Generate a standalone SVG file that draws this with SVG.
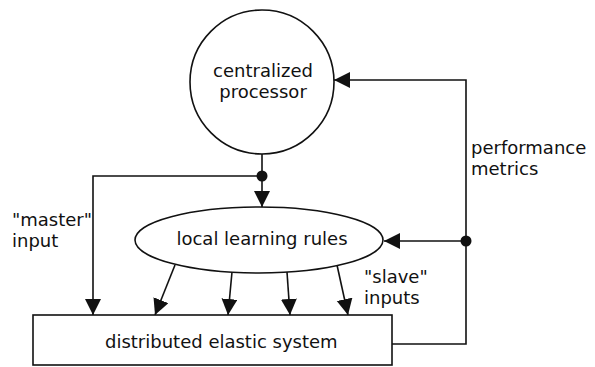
<svg xmlns="http://www.w3.org/2000/svg" width="595" height="367" viewBox="0 0 595 367">
<style>
  .ln { fill: none; stroke: #111; stroke-width: 1.6; }
  .shape { fill: #fff; stroke: #111; stroke-width: 1.6; }
  .t { font-family: "DejaVu Sans", "Liberation Sans", sans-serif; font-size: 18px; fill: #111; }
  .dot { fill: #111; }
</style>
<defs>
  <marker id="ah" markerUnits="userSpaceOnUse" markerWidth="17" markerHeight="17" refX="16" refY="8" orient="auto" viewBox="0 0 17 17">
    <path d="M0,0 L16,8 L0,16 z" fill="#111"/>
  </marker>
</defs>
<rect width="595" height="367" fill="#fff"/>
<g id="connectors">
  <line class="ln" x1="262" y1="154" x2="262" y2="207" marker-end="url(#ah)"/>
  <polyline class="ln" points="262,176 93,176 93,315" marker-end="url(#ah)"/>
  <line class="ln" x1="175" y1="265" x2="155" y2="315" marker-end="url(#ah)"/>
  <line class="ln" x1="232" y1="272" x2="228" y2="315" marker-end="url(#ah)"/>
  <line class="ln" x1="287" y1="272" x2="290" y2="315" marker-end="url(#ah)"/>
  <line class="ln" x1="337" y1="265" x2="348" y2="315" marker-end="url(#ah)"/>
  <polyline class="ln" points="392,344 466,344 466,80 334,80" marker-end="url(#ah)"/>
  <line class="ln" x1="466" y1="241" x2="384" y2="241" marker-end="url(#ah)"/>
  <circle class="dot" cx="262" cy="176" r="5.5"/>
  <circle class="dot" cx="466" cy="241" r="5.5"/>
</g>
<g id="processor">
  <circle class="shape" cx="262" cy="82" r="72"/>
  <text class="t" x="263" y="77" text-anchor="middle">centralized</text>
  <text class="t" x="263" y="98" text-anchor="middle">processor</text>
</g>
<g id="rules">
  <ellipse class="shape" cx="259" cy="240" rx="124" ry="33"/>
  <text class="t" x="262" y="245" text-anchor="middle">local learning rules</text>
</g>
<g id="system">
  <rect class="shape" x="33" y="315" width="359" height="50"/>
  <text class="t" x="105" y="348">distributed elastic system</text>
</g>
<g id="labels">
  <text class="t" x="12" y="226">"master"</text>
  <text class="t" x="12" y="247">input</text>
  <text class="t" x="364" y="283">"slave"</text>
  <text class="t" x="364" y="304">inputs</text>
  <text class="t" x="471" y="154">performance</text>
  <text class="t" x="471" y="175">metrics</text>
</g>
</svg>
